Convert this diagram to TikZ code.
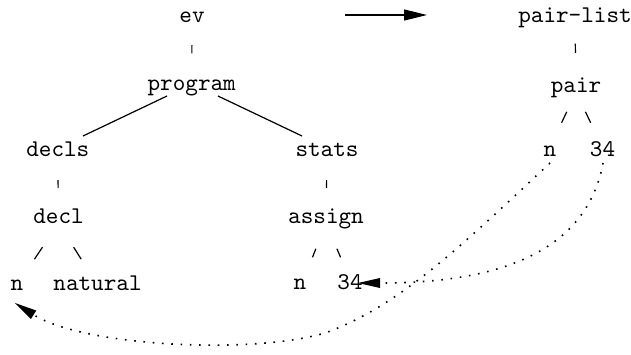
\documentclass[tikz,border=0pt]{standalone}
\usetikzlibrary{arrows.meta,calc}
\font\bigtt=cmtt10 at 24pt
\begin{document}
\begin{tikzpicture}[x=1pt,y=-1pt,
  lbl/.style={font=\bigtt,inner sep=0pt,anchor=base},
  edge/.style={line width=1.2pt},
  tick/.style={line width=1.2pt},
  link/.style={line width=1.6pt,dash pattern=on 1.6pt off 7.7pt,
     -{Triangle[length=22pt,width=10pt,line width=0pt]}}]
\useasboundingbox (0,0) rectangle (631,354);
% left tree
\node[lbl] (ev) at (192,22) {ev};
\node[lbl] (prog) at (191.7,90) {program};
\node[lbl] (decls) at (57.8,156) {decls};
\node[lbl] (stats) at (327,156) {stats};
\node[lbl] (decl) at (58.5,223) {decl};
\node[lbl] (assign) at (326,223) {assign};
\node[lbl] (dn) at (17,290) {n};
\node[lbl] (nat) at (97.5,290) {natural};
\node[lbl] (an) at (300,289) {n};
\node[lbl] (a34) at (350,289) {34};
% right tree
\node[lbl] (plist) at (575,22) {pair-list};
\node[lbl] (pair) at (576,92) {pair};
\node[lbl] (pn) at (550,156) {n};
\node[lbl] (p34) at (602.5,156) {34};
% transform arrow
\coordinate (arrS) at (345,15);
\coordinate (arrE) at (427,15);
\draw[line width=1.2pt,-{Triangle[length=23pt,width=11pt]}] (arrS) -- (arrE);
% ticks
\draw[tick] ($(ev.base)!0.34!(prog.base)$) -- ($(ev.base)!0.46!(prog.base)$);
\draw[tick] ($(decls.base)!0.36!(decl.base)$) -- ($(decls.base)!0.48!(decl.base)$);
\draw[tick] ($(stats.base)!0.36!(assign.base)$) -- ($(stats.base)!0.48!(assign.base)$);
\draw[tick] ($(plist.base)!0.31!(pair.base)$) -- ($(plist.base)!0.44!(pair.base)$);
% program edges
\draw[edge] ([xshift=-24.7pt,yshift=-6pt]prog.base) -- ([xshift=25.2pt,yshift=20pt]decls.base);
\draw[edge] ([xshift=26.3pt,yshift=-6pt]prog.base) -- ([xshift=-25pt,yshift=20pt]stats.base);
% slashes
\draw[edge] ($(decl.base)!0.36!([xshift=-3pt]dn.base)$) -- ($(decl.base)!0.54!([xshift=-3pt]dn.base)$);
\draw[edge] ($(decl.base)!0.36!([xshift=3pt]nat.base)$) -- ($(decl.base)!0.54!([xshift=3pt]nat.base)$);
\draw[edge] ($(assign.base)!0.39!(an.base)$) -- ($(assign.base)!0.52!(an.base)$);
\draw[edge] ($(assign.base)!0.39!([xshift=4pt]a34.base)$) -- ($(assign.base)!0.52!([xshift=4pt]a34.base)$);
\draw[edge] ($(pair.base)!0.31!([xshift=-4pt]pn.base)$) -- ($(pair.base)!0.48!([xshift=-4pt]pn.base)$);
\draw[edge] ($(pair.base)!0.31!([xshift=4pt]p34.base)$) -- ($(pair.base)!0.48!([xshift=4pt]p34.base)$);
% dotted links
\draw[link] ([xshift=0.5pt,yshift=-7pt]p34.base) .. controls (584,266) and (470,283) .. ([xshift=8pt,yshift=6pt]a34.base);
\draw[link] ([yshift=-7pt]pn.base) .. controls (462,245) and (400,306) .. (325,333)
   .. controls (250,355) and (83,346) .. ([xshift=-2pt,yshift=-13pt]dn.base);
\end{tikzpicture}
\end{document}
